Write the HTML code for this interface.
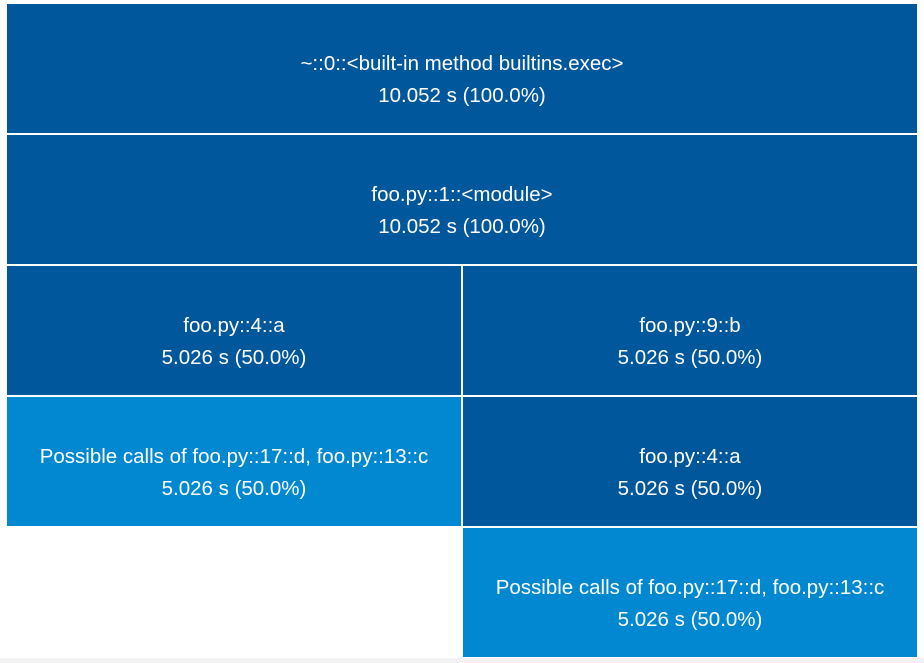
<!DOCTYPE html>
<html><head><meta charset="utf-8"><style>
html,body{margin:0;padding:0;width:924px;height:663px;overflow:hidden;background:#fff;font-family:"Liberation Sans",sans-serif}
#strip{position:absolute;left:0;top:658px;width:924px;height:5px;background:#f2f2f2}
.cell{position:absolute;box-sizing:border-box;color:#fff;display:flex;flex-direction:column;align-items:center;justify-content:center;padding-top:23px;font-size:20.5px;line-height:32px;text-align:center;white-space:nowrap;overflow:hidden}
</style></head><body>
<div id="chart"></div>
<div id="strip"></div>
<script>
const labels=["~::0::<built-in method builtins.exec>","foo.py::1::<module>","foo.py::4::a","foo.py::9::b","Possible calls of foo.py::17::d, foo.py::13::c","foo.py::4::a","Possible calls of foo.py::17::d, foo.py::13::c"];
const depths=[0,1,2,2,3,3,4];
const starts=[0,0,0,5.026,0,5.026,5.026];
const values=[10.052,10.052,5.026,5.026,5.026,5.026,5.026];
const kinds=["call","call","call","call","possible","call","possible"];
const total=10.052;
const X0=7,X1=917,Y0=4,ROW=131,GAP=2.5;
const xs=v=>X0+v/total*(X1-X0);
const ys=d=>Y0+d*ROW;
const chart=document.getElementById('chart');
labels.forEach((t,i)=>{
  const el=document.createElement('div');
  el.className='cell';
  
  
  const x=xs(starts[i]),w=xs(starts[i]+values[i])-x;
  el.style.left=(x+(starts[i]>0?1:0))+'px';
  el.style.width=(w-(starts[i]>0?1:0)-(starts[i]+values[i]<total-1e-9?1:0))+'px';
  el.style.top=ys(depths[i])+'px';
  el.style.height=(ROW-GAP)+'px';
  el.style.background=kinds[i]==='possible'?'#0288d1':'#01579b';
  const a=document.createElement('div');a.textContent=t;
  
  
  const b=document.createElement('div');
  b.textContent=values[i].toFixed(3)+' s ('+(values[i]/total*100).toFixed(1)+'%)';
  
  
  el.appendChild(a);el.appendChild(b);chart.appendChild(el);
});
</script>
</body></html>
